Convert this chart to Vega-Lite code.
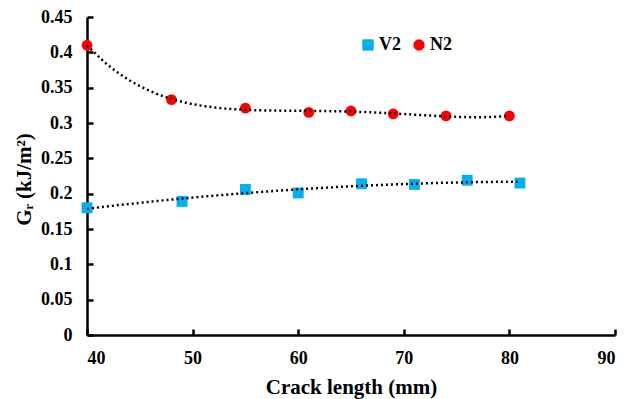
{
  "$schema": "https://vega.github.io/schema/vega-lite/v6.json",
  "width": 528,
  "height": 318,
  "autosize": {"type": "none"},
  "padding": {"left": 87, "top": 17, "right": 10, "bottom": 64},
  "background": "white",
  "config": {
    "view": {"stroke": null},
    "font": "Liberation Serif",
    "axis": {
      "domainColor": "black",
      "domainWidth": 2.5,
      "grid": false,
      "labelFont": "Liberation Serif",
      "labelFontWeight": "bold",
      "labelFontSize": 18,
      "labelColor": "black",
      "titleFont": "Liberation Serif",
      "titleFontWeight": "bold",
      "titleFontSize": 21,
      "titleColor": "black"
    },
    "legend": {
      "labelFont": "Liberation Serif",
      "labelFontWeight": "bold",
      "labelFontSize": 18,
      "labelColor": "black"
    }
  },
  "data": {
    "values": [
      {"series": "N2", "len": 40, "gr": 0.410},
      {"series": "N2", "len": 48, "gr": 0.333},
      {"series": "N2", "len": 55, "gr": 0.321},
      {"series": "N2", "len": 61, "gr": 0.315},
      {"series": "N2", "len": 65, "gr": 0.317},
      {"series": "N2", "len": 69, "gr": 0.313},
      {"series": "N2", "len": 74, "gr": 0.310},
      {"series": "N2", "len": 80, "gr": 0.310},
      {"series": "V2", "len": 40, "gr": 0.180},
      {"series": "V2", "len": 49, "gr": 0.189},
      {"series": "V2", "len": 55, "gr": 0.206},
      {"series": "V2", "len": 60, "gr": 0.201},
      {"series": "V2", "len": 66, "gr": 0.214},
      {"series": "V2", "len": 71, "gr": 0.213},
      {"series": "V2", "len": 76, "gr": 0.219},
      {"series": "V2", "len": 81, "gr": 0.215}
    ]
  },
  "resolve": {"axis": {"x": "independent", "y": "independent"}},
  "layer": [
    {
      "mark": {"type": "point", "filled": true, "opacity": 1, "size": 118},
      "encoding": {
        "x": {
          "field": "len",
          "type": "quantitative",
          "scale": {"domain": [40, 90], "nice": false, "zero": false},
          "axis": {
            "values": [40, 50, 60, 70, 80, 90],
            "title": "Crack length (mm)",
            "ticks": false,
            "labelPadding": 14,
            "titlePadding": 9
          }
        },
        "y": {
          "field": "gr",
          "type": "quantitative",
          "scale": {"domain": [0, 0.45], "nice": false},
          "axis": {
            "values": [0, 0.05, 0.1, 0.15, 0.2, 0.25, 0.3, 0.35, 0.4, 0.45],
            "format": "~g",
            "title": "Gᵣ (kJ/m²)",
            "ticks": false,
            "labelPadding": 15,
            "titlePadding": 6,
            "titleY": 162
          }
        },
        "color": {
          "field": "series",
          "type": "nominal",
          "scale": {"domain": ["V2", "N2"], "range": ["#00B0F0", "#FF0000"]},
          "legend": {"title": null, "orient": "none", "legendX": 272, "legendY": 19, "direction": "horizontal", "symbolSize": 130, "symbolStrokeWidth": 0, "labelOffset": 2, "columnPadding": 9}
        },
        "shape": {
          "field": "series",
          "type": "nominal",
          "scale": {"domain": ["V2", "N2"], "range": ["square", "circle"]},
          "legend": {"title": null, "orient": "none", "legendX": 272, "legendY": 19, "direction": "horizontal", "symbolSize": 130, "symbolStrokeWidth": 0, "labelOffset": 2, "columnPadding": 9}
        }
      }
    },
    {
      "transform": [
        {"filter": "datum.series === 'N2'"},
        {"regression": "gr", "on": "len", "method": "poly", "order": 4}
      ],
      "mark": {"type": "line", "color": "black", "strokeWidth": 2.5, "strokeDash": [2, 3]},
      "encoding": {
        "x": {
          "field": "len",
          "type": "quantitative",
          "axis": {
            "orient": "top",
            "offset": -318,
            "values": [40, 50, 60, 70, 80, 90],
            "domain": false,
            "labels": false,
            "title": null,
            "ticks": true,
            "tickSize": 6,
            "tickWidth": 2.5,
            "tickColor": "black"
          }
        },
        "y": {
          "field": "gr",
          "type": "quantitative",
          "axis": {
            "orient": "right",
            "offset": -528,
            "values": [0, 0.05, 0.1, 0.15, 0.2, 0.25, 0.3, 0.35, 0.4, 0.45],
            "domain": false,
            "labels": false,
            "title": null,
            "ticks": true,
            "tickSize": 6,
            "tickWidth": 2.5,
            "tickColor": "black"
          }
        }
      }
    },
    {
      "transform": [
        {"filter": "datum.series === 'V2'"},
        {"regression": "gr", "on": "len", "method": "poly", "order": 2}
      ],
      "mark": {"type": "line", "color": "black", "strokeWidth": 2.5, "strokeDash": [2, 3]},
      "encoding": {
        "x": {"field": "len", "type": "quantitative", "axis": null},
        "y": {"field": "gr", "type": "quantitative", "axis": null}
      }
    }
  ]
}
